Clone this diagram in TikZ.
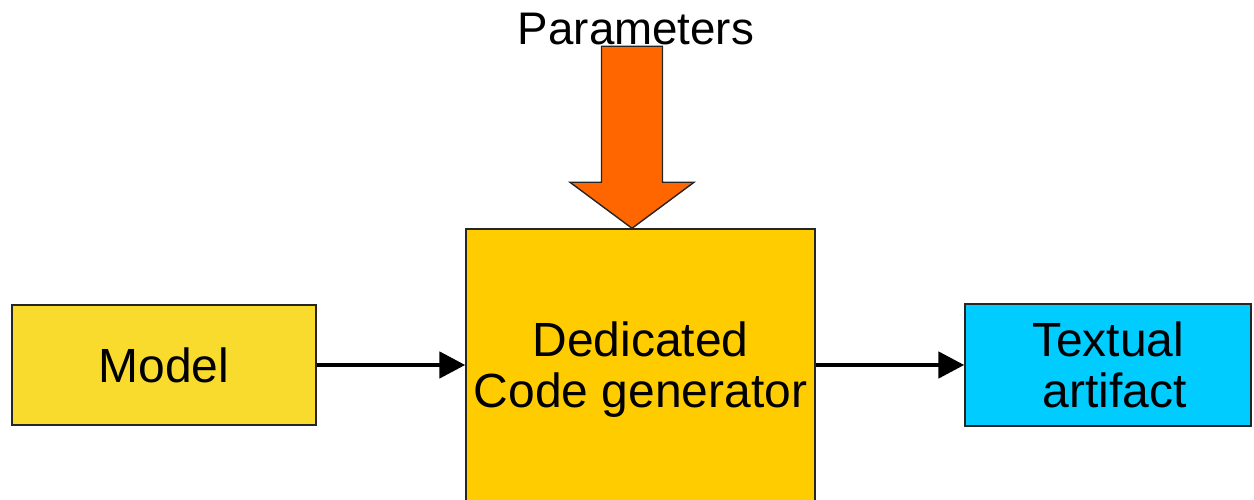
\documentclass[tikz,border=0pt]{standalone}
\usepackage{fontspec}
\setmainfont{Liberation Sans}
\usetikzlibrary{arrows.meta}
\definecolor{modelyellow}{HTML}{F9DB2E}
\definecolor{genyellow}{HTML}{FFCC00}
\definecolor{artblue}{HTML}{00CCFF}
\definecolor{paramorange}{HTML}{FF6600}

\begin{document}
\begin{tikzpicture}[
	box/.style = {draw=black!85, line width=.8pt, align=center,
		font=\fontsize{27.3}{29}\selectfont},
	flow/.style = {line width=2.8pt, -{Triangle[length=.52cm, width=.52cm]}},
	]

	\useasboundingbox (0,0) rectangle (25.08,10);

	\node[box, fill=modelyellow, minimum width=6.08cm, minimum height=2.4cm] (model) at (3.28,2.7) {Model};
	\node[box, fill=genyellow, minimum width=6.98cm, minimum height=5.62cm] (gen) at (12.81,2.61) {Dedicated\\Code generator};
	\node[box, fill=artblue, minimum width=5.72cm, minimum height=2.44cm] (art) at (22.16,2.7) {Textual\\\mbox{}\ artifact};

	\node[font=\fontsize{26}{29}\selectfont, anchor=base] (param) at (12.72,9.1) {Parameters};

	\draw[flow] (model.east) -- (model.east -| gen.west);
	\draw[flow] (gen.east |- art.west) -- (art.west);

	% block arrow into the generator
	\coordinate (tip) at ([xshift=-.17cm]gen.north);
	\draw[draw=black!85, line width=.8pt, fill=paramorange, line join=miter]
		(tip) -- ++(-1.24,.92) -- ++(.63,0) -- ++(0,2.72) -- ++(1.22,0)
		-- ++(0,-2.72) -- ++(.63,0) -- cycle;
\end{tikzpicture}
\end{document}
